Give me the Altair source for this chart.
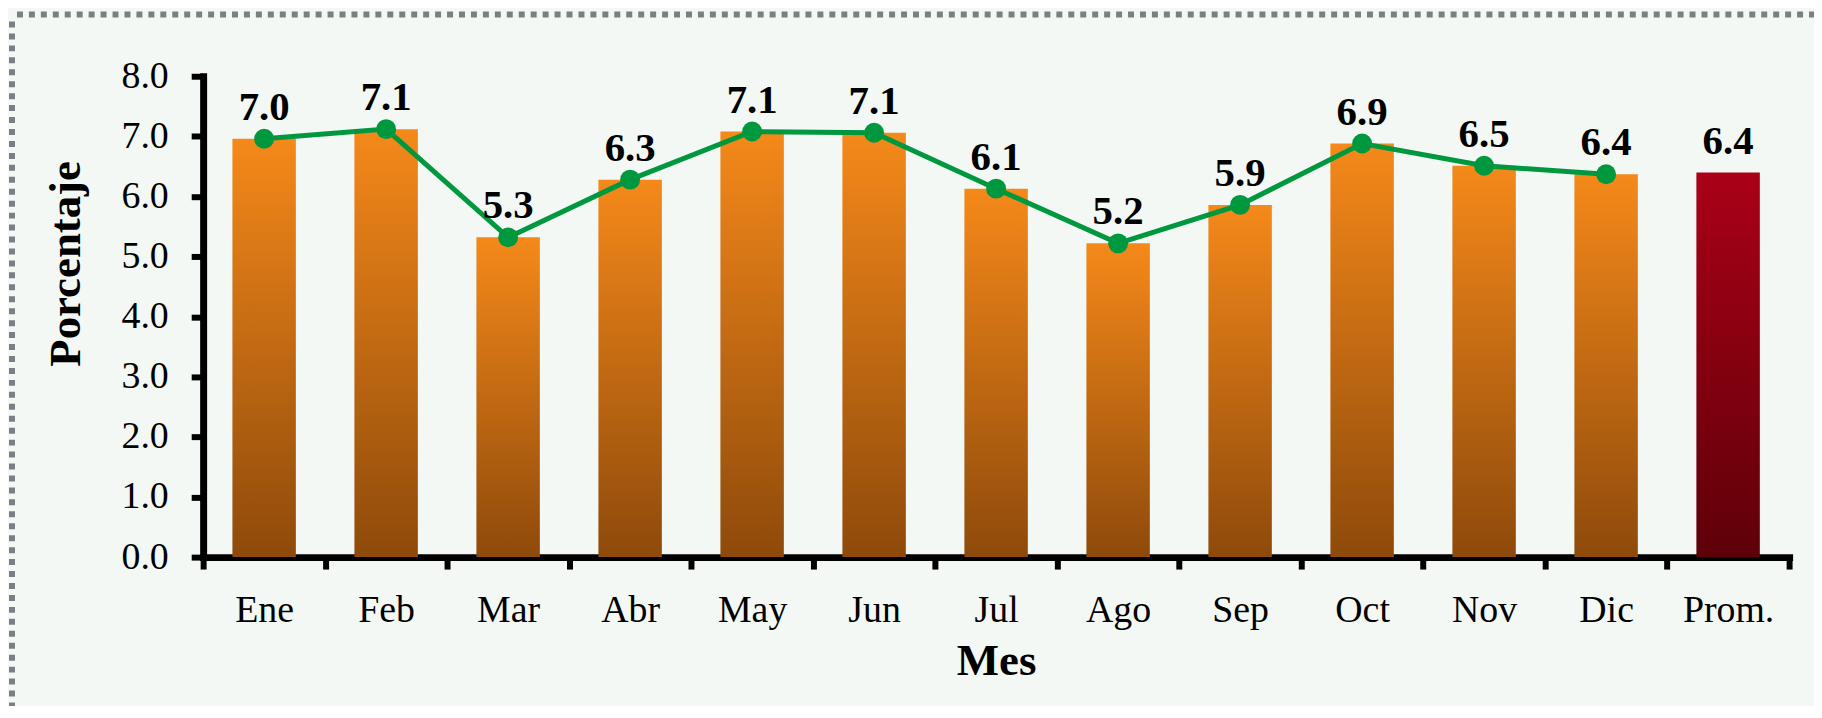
import altair as alt
import pandas as pd

meses = ["Ene", "Feb", "Mar", "Abr", "May", "Jun", "Jul", "Ago", "Sep", "Oct", "Nov", "Dic", "Prom."]
valores = [6.96, 7.12, 5.32, 6.28, 7.08, 7.06, 6.13, 5.22, 5.86, 6.88, 6.51, 6.37, 6.40]
tipos = ["mes"] * 12 + ["prom"]
y_ticks = [0, 1, 2, 3, 4, 5, 6, 7, 8]

df = pd.DataFrame({"mes": meses, "valor": valores, "tipo": tipos})

FONT = "Liberation Serif"
W, H = 1593, 483

x_enc = alt.X(
    "mes:N",
    sort=meses,
    scale=alt.Scale(paddingInner=0, paddingOuter=0),
    axis=alt.Axis(
        title="Mes",
        labelAngle=0,
        labelFont=FONT,
        labelFontSize=38,
        labelColor="black",
        labelPadding=23,
        titleFont=FONT,
        titleFontSize=45,
        titleFontWeight="bold",
        titleColor="black",
        titlePadding=9,
        domainColor="black",
        domainWidth=7,
        domainCap="square",
        tickColor="black",
        tickWidth=6,
        tickSize=12,
        tickBand="extent",
    ),
)
y_enc = alt.Y(
    "valor:Q",
    scale=alt.Scale(domain=[0, 8], nice=False),
    axis=alt.Axis(
        title="Porcentaje",
        values=y_ticks,
        format=".1f",
        grid=False,
        labelFont=FONT,
        labelFontSize=38,
        labelColor="black",
        labelPadding=23,
        titleFont=FONT,
        titleFontSize=45,
        titleFontWeight="bold",
        titleColor="black",
        titlePadding=33,
        titleY=188,
        domainColor="black",
        domainWidth=7,
        domainCap="square",
        tickColor="black",
        tickWidth=6,
        tickSize=12,
    ),
)

base = alt.Chart(df)

orange_grad = alt.Gradient(
    gradient="linear",
    stops=[alt.GradientStop(color="#F5891A", offset=0), alt.GradientStop(color="#8E4A0B", offset=1)],
    x1=0, x2=0, y1=0, y2=1,
)
red_grad = alt.Gradient(
    gradient="linear",
    stops=[alt.GradientStop(color="#AA0018", offset=0), alt.GradientStop(color="#5E0008", offset=1)],
    x1=0, x2=0, y1=0, y2=1,
)

bar_w = alt.RelativeBandSize(band=0.52)
bars_mes = base.transform_filter(alt.datum.tipo == "mes").mark_bar(color=orange_grad, width=bar_w).encode(x=x_enc, y=y_enc)
bars_prom = base.transform_filter(alt.datum.tipo == "prom").mark_bar(color=red_grad, width=bar_w).encode(x=x_enc, y=y_enc)

line = base.transform_filter(alt.datum.tipo == "mes").mark_line(color="#00983F", strokeWidth=5).encode(x=x_enc, y=y_enc)
points = base.transform_filter(alt.datum.tipo == "mes").mark_point(
    filled=True, color="#00983F", size=400, opacity=1
).encode(x=x_enc, y=y_enc)

labels = base.mark_text(
    font=FONT, fontSize=41, fontWeight="bold", color="black", baseline="alphabetic", dy=-19
).encode(x=x_enc, y=y_enc, text=alt.Text("valor:Q", format=".1f"))

one = alt.Data(values=[{"k": 0}])
border_top = alt.Chart(one).mark_rule(color="#788085", strokeWidth=6, strokeDash=[6, 6]).encode(
    x=alt.value(-187), x2=alt.value(W + 40), y=alt.value(-62)
)
border_left = alt.Chart(one).mark_rule(color="#788085", strokeWidth=6, strokeDash=[6, 6]).encode(
    x=alt.value(-192), y=alt.value(-55), y2=alt.value(H + 200)
)

chart = alt.layer(
    border_top, border_left, bars_mes, bars_prom, line, points, labels
).properties(
    width=W,
    height=H,
    autosize=alt.AutoSizeParams(type="none"),
    padding={"left": 196, "top": 67, "right": 25, "bottom": 148},
    background="#F3F8F4",
).configure_view(strokeWidth=0)

chart.save("out.html", embed_options={"renderer": "svg", "actions": False})
